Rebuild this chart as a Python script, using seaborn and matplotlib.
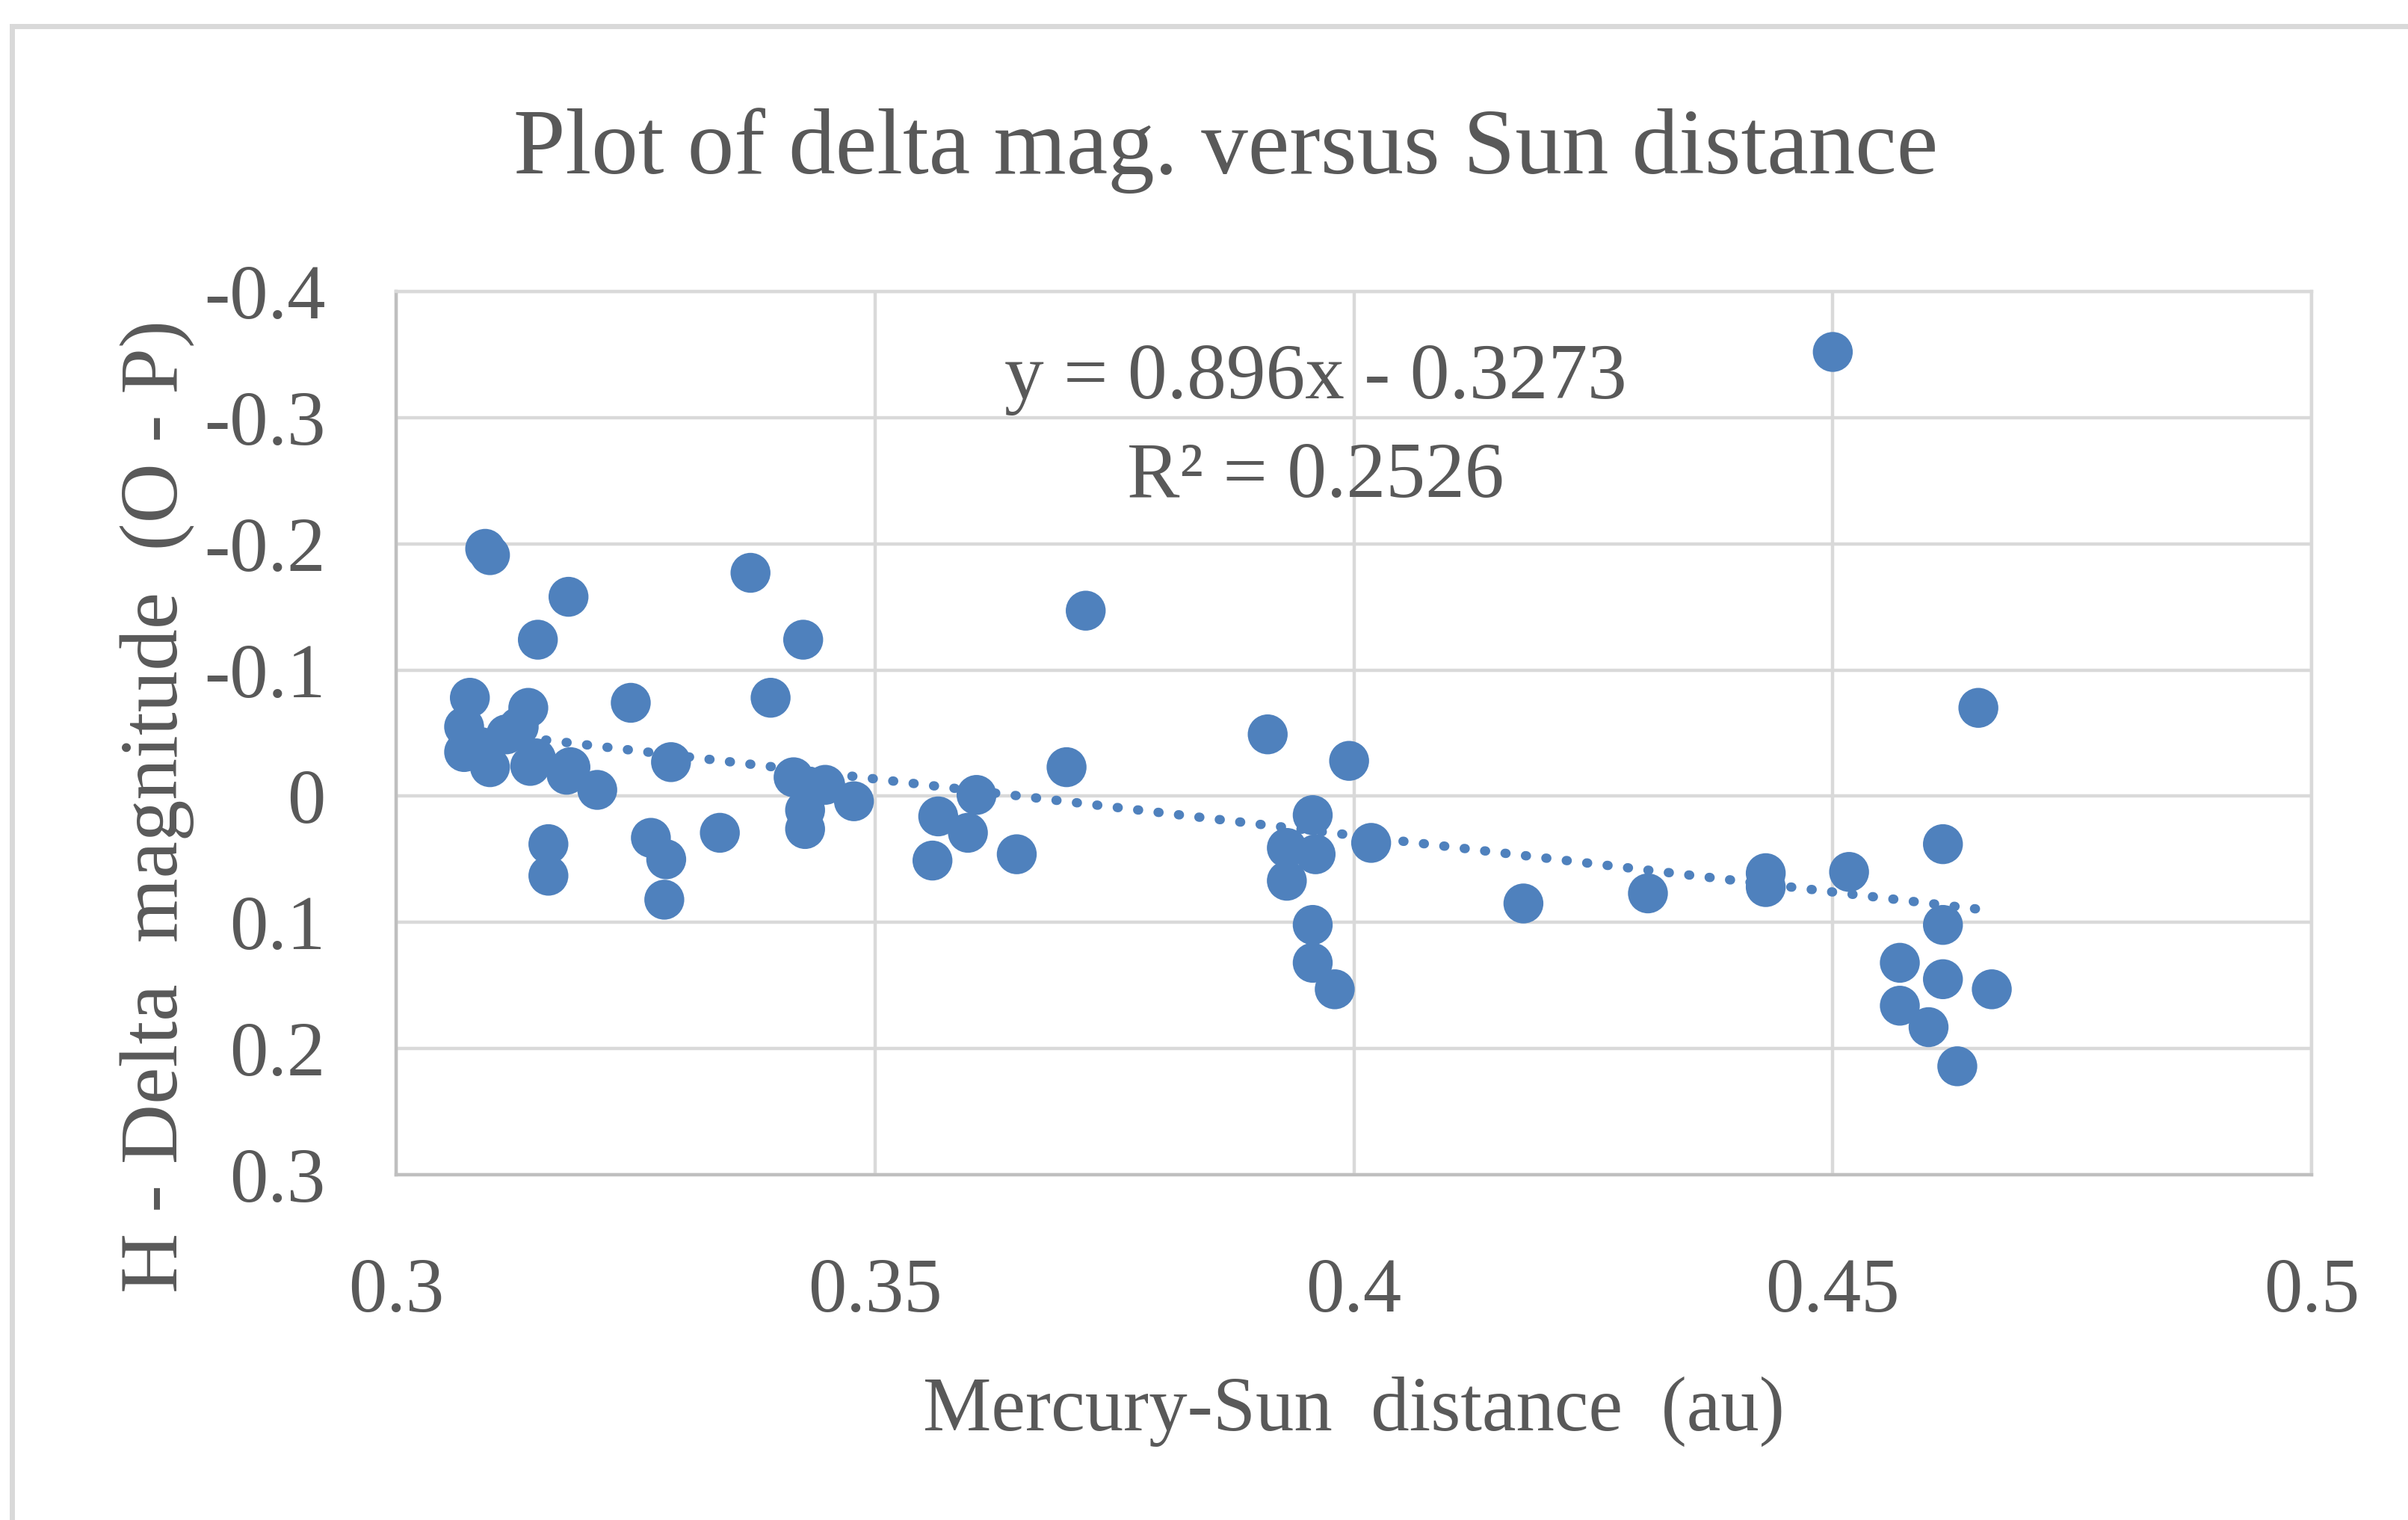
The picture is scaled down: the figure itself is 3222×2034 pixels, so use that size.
import numpy as np
import pandas as pd
import matplotlib.pyplot as plt
import seaborn as sns
from matplotlib.patches import Rectangle

sns.set_style("white")
plt.rcParams["font.family"] = ["Liberation Serif", "DejaVu Serif"]

# Mercury-Sun distance (au)
distance = [
    0.3093, 0.3098, 0.3077, 0.3071, 0.3071, 0.3088, 0.3098, 0.3115, 0.3128, 0.3138,
    0.3140, 0.3148, 0.3146, 0.3159, 0.3159, 0.3180, 0.3182, 0.3178, 0.3210, 0.3245,
    0.3266, 0.3282, 0.3280, 0.3287, 0.3338, 0.3370, 0.3391, 0.3415, 0.3425, 0.3427,
    0.3427, 0.3448, 0.3478, 0.3560, 0.3566, 0.3597, 0.3606, 0.3648, 0.3700, 0.3720,
    0.3910, 0.3930, 0.3930, 0.3957, 0.3960, 0.3957, 0.3957, 0.3980, 0.3995, 0.4018,
    0.4177, 0.4307, 0.4430, 0.4430, 0.4500, 0.4517, 0.4570, 0.4570, 0.4600, 0.4615,
    0.4615, 0.4615, 0.4630, 0.4652, 0.4666,
]
# H - delta magnitude (O - P)
delta_mag = [
    -0.196, -0.191, -0.078, -0.055, -0.035, -0.039, -0.023, -0.049, -0.055, -0.070,
    -0.024, -0.124, -0.030, 0.038, 0.063, -0.158, -0.023, -0.017, -0.005, -0.074,
    0.033, 0.050, 0.082, -0.027, 0.029, -0.177, -0.078, -0.015, -0.124, 0.011,
    0.026, -0.009, 0.004, 0.051, 0.016, 0.029, -0.001, 0.046, -0.023, -0.147,
    -0.049, 0.041, 0.067, 0.015, 0.046, 0.102, 0.132, 0.153, -0.028, 0.037,
    0.085, 0.077, 0.061, 0.072, -0.352, 0.060, 0.132, 0.166, 0.183, 0.038,
    0.102, 0.145, 0.214, -0.070, 0.153,
]

# linear trendline shown on the chart
slope = 0.896
intercept = -0.3273
r_squared = 0.2526

x_ticks = [0.3, 0.35, 0.4, 0.45, 0.5]
x_labels = ["0.3", "0.35", "0.4", "0.45", "0.5"]
y_ticks = [-0.4, -0.3, -0.2, -0.1, 0.0, 0.1, 0.2, 0.3]
y_labels = ["-0.4", "-0.3", "-0.2", "-0.1", "0", "0.1", "0.2", "0.3"]

df = pd.DataFrame({"distance": distance, "delta": delta_mag})
trend = pd.DataFrame({"distance": [min(distance), max(distance)]})
trend["delta"] = slope * trend["distance"] + intercept

TEXT = "#595959"
BLUE = "#4F81BD"
GRID = "#D9D9D9"

fig = plt.figure(figsize=(16.11, 10.17), dpi=200)
ax = fig.add_axes([0.1645, 0.2271, 0.7955, 0.5812])

# outer chart border
fig.patches.append(Rectangle((0.005, -0.1), 1.2, 1.083, transform=fig.transFigure,
                             fill=False, edgecolor=GRID, linewidth=2.5))

sns.lineplot(data=trend, x="distance", y="delta", ax=ax, color=BLUE,
             linewidth=4.5, linestyle=(0, (0.1, 2.1)), dash_capstyle="round",
             zorder=3)
sns.scatterplot(data=df, x="distance", y="delta", ax=ax, color=BLUE, s=370,
                edgecolor="none", linewidth=0, zorder=4)

ax.set_xlim(0.3, 0.5)
ax.set_ylim(0.3, -0.4)
ax.set_xticks(x_ticks)
ax.set_xticklabels(x_labels)
ax.set_yticks(y_ticks)
ax.set_yticklabels(y_labels)
ax.tick_params(axis="both", length=0, labelsize=37, colors=TEXT)
ax.tick_params(axis="y", pad=34)
ax.tick_params(axis="x", pad=40)
ax.grid(True, color=GRID, linewidth=1.6)
ax.set_axisbelow(True)
for side in ax.spines.values():
    side.set_color(GRID)
    side.set_linewidth(1.6)
ax.spines["left"].set_color("#BFBFBF")
ax.spines["bottom"].set_color("#BFBFBF")

ax.set_xlabel("Mercury-Sun  distance  (au)", fontsize=37, color=TEXT)
ax.xaxis.set_label_coords(0.5, -0.228)
ax.set_ylabel("H - Delta  magnitude  (O - P)", fontsize=40, color=TEXT)
ax.yaxis.set_label_coords(-0.105, 0.417)

ax.text(0.396, -0.33, f"y = {slope}x - {abs(intercept)}", fontsize=38, color=TEXT,
        ha="center", va="center")
ax.text(0.396, -0.252, f"R² = {r_squared}", fontsize=38, color=TEXT,
        ha="center", va="center")

fig.suptitle("Plot of delta mag. versus Sun distance", x=0.509, y=0.929,
             fontsize=45, color=TEXT)

fig.savefig("out.png", dpi=200, facecolor="white")
